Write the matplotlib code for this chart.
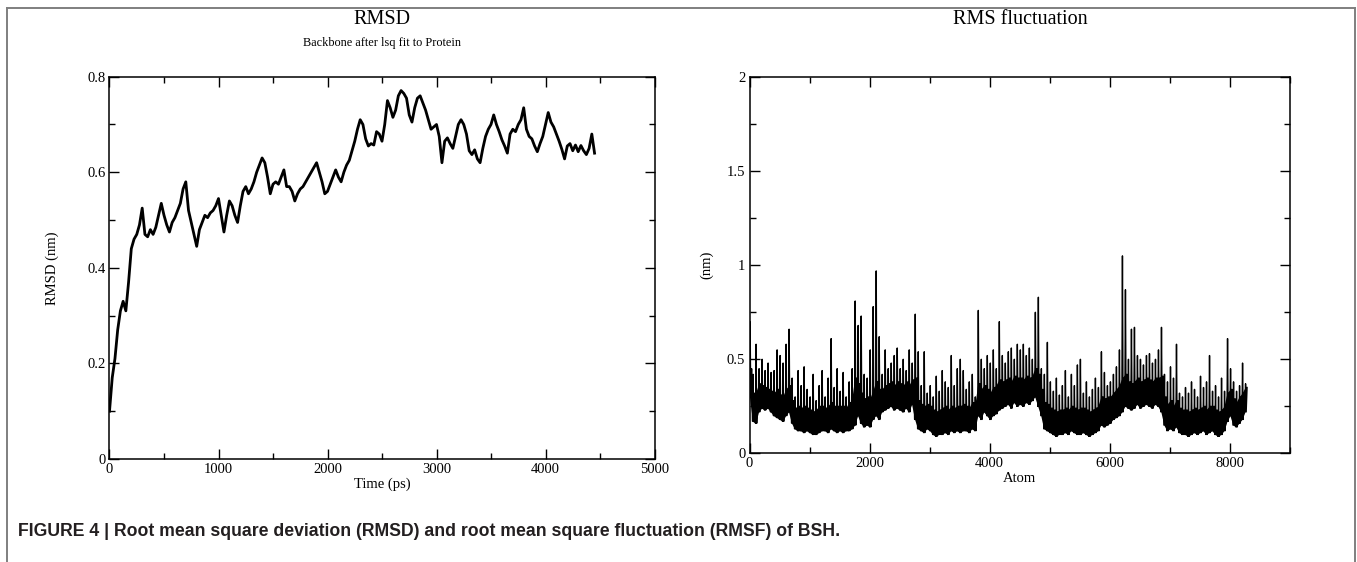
import numpy as np
import matplotlib
matplotlib.use("Agg")
import matplotlib.pyplot as plt
from matplotlib.lines import Line2D
from matplotlib.ticker import MultipleLocator, FuncFormatter

# ---------------- data ----------------
# RMSD of backbone, sampled every 25 ps from 0 to 4450 ps
rmsd_time_ps = np.arange(0, 4451, 25)
rmsd_nm = [
    0.10, 0.17, 0.21, 0.27, 0.31, 0.33, 0.31, 0.37,
    0.44, 0.46, 0.47, 0.49, 0.525, 0.47, 0.465, 0.48,
    0.47, 0.485, 0.51, 0.535, 0.51, 0.49, 0.475, 0.495,
    0.505, 0.52, 0.535, 0.565, 0.58, 0.52, 0.495, 0.47,
    0.445, 0.48, 0.495, 0.51, 0.505, 0.515, 0.52, 0.53,
    0.545, 0.51, 0.475, 0.51, 0.54, 0.53, 0.51, 0.495,
    0.53, 0.56, 0.57, 0.555, 0.565, 0.58, 0.60, 0.615,
    0.63, 0.62, 0.59, 0.555, 0.575, 0.58, 0.575, 0.59,
    0.605, 0.57, 0.57, 0.56, 0.54, 0.555, 0.565, 0.57,
    0.58, 0.59, 0.60, 0.61, 0.62, 0.60, 0.58, 0.555,
    0.56, 0.575, 0.59, 0.605, 0.59, 0.58, 0.60, 0.615,
    0.625, 0.645, 0.665, 0.69, 0.71, 0.70, 0.67, 0.655,
    0.66, 0.657, 0.685, 0.68, 0.665, 0.70, 0.75, 0.735,
    0.715, 0.73, 0.76, 0.771, 0.765, 0.755, 0.72, 0.705,
    0.735, 0.755, 0.76, 0.745, 0.73, 0.71, 0.69, 0.695,
    0.70, 0.675, 0.62, 0.665, 0.672, 0.66, 0.65, 0.675,
    0.70, 0.71, 0.70, 0.68, 0.645, 0.637, 0.647, 0.628,
    0.62, 0.65, 0.675, 0.69, 0.70, 0.72, 0.70, 0.685,
    0.668, 0.655, 0.64, 0.68, 0.69, 0.685, 0.70, 0.71,
    0.735, 0.69, 0.675, 0.67, 0.655, 0.643, 0.66, 0.675,
    0.70, 0.725, 0.705, 0.695, 0.68, 0.665, 0.648, 0.628,
    0.655, 0.66, 0.645, 0.657, 0.643, 0.656, 0.645, 0.637,
    0.65, 0.68, 0.64,
]

# RMSF per atom, summarised in 50-atom bins (0 .. 8250):
# low = bottom of dense band, core = top of dense band, high = tallest spike
rmsf_atom = np.arange(0, 8251, 50)
rmsf_low = [
    0.30, 0.17, 0.16, 0.22, 0.24, 0.23, 0.24, 0.22, 0.20, 0.19,
    0.18, 0.17, 0.20, 0.22, 0.16, 0.13, 0.12, 0.12, 0.11, 0.12,
    0.11, 0.10, 0.10, 0.11, 0.12, 0.12, 0.11, 0.13, 0.12, 0.11,
    0.12, 0.11, 0.12, 0.12, 0.13, 0.15, 0.20, 0.16, 0.14, 0.15,
    0.14, 0.18, 0.20, 0.18, 0.22, 0.23, 0.24, 0.25, 0.23, 0.24,
    0.23, 0.22, 0.24, 0.22, 0.26, 0.18, 0.13, 0.12, 0.11, 0.13,
    0.12, 0.10, 0.09, 0.10, 0.10, 0.11, 0.10, 0.12, 0.11, 0.12,
    0.11, 0.12, 0.12, 0.11, 0.13, 0.12, 0.20, 0.18, 0.22, 0.20,
    0.18, 0.20, 0.21, 0.23, 0.24, 0.25, 0.26, 0.24, 0.27, 0.25,
    0.26, 0.25, 0.27, 0.26, 0.28, 0.30, 0.25, 0.20, 0.13, 0.12,
    0.11, 0.10, 0.09, 0.10, 0.10, 0.11, 0.10, 0.12, 0.11, 0.10,
    0.10, 0.11, 0.10, 0.09, 0.10, 0.11, 0.12, 0.15, 0.14, 0.15,
    0.16, 0.18, 0.19, 0.20, 0.22, 0.25, 0.24, 0.23, 0.24, 0.26,
    0.24, 0.25, 0.26, 0.25, 0.24, 0.26, 0.25, 0.22, 0.15, 0.12,
    0.13, 0.12, 0.14, 0.11, 0.10, 0.10, 0.09, 0.10, 0.11, 0.10,
    0.11, 0.12, 0.10, 0.11, 0.12, 0.10, 0.09, 0.10, 0.12, 0.17,
    0.20, 0.15, 0.14, 0.16, 0.18, 0.22,
]
rmsf_core = [
    0.45, 0.32, 0.32, 0.37, 0.36, 0.35, 0.34, 0.33, 0.32, 0.34,
    0.31, 0.30, 0.34, 0.36, 0.28, 0.24, 0.25, 0.24, 0.25, 0.24,
    0.23, 0.22, 0.23, 0.25, 0.25, 0.24, 0.25, 0.27, 0.25, 0.25,
    0.25, 0.25, 0.24, 0.27, 0.28, 0.40, 0.37, 0.32, 0.29, 0.30,
    0.29, 0.33, 0.38, 0.34, 0.34, 0.36, 0.37, 0.38, 0.36, 0.38,
    0.37, 0.36, 0.38, 0.36, 0.39, 0.40, 0.28, 0.26, 0.25, 0.26,
    0.25, 0.23, 0.22, 0.23, 0.24, 0.25, 0.23, 0.25, 0.24, 0.25,
    0.25, 0.26, 0.25, 0.24, 0.27, 0.25, 0.37, 0.34, 0.36, 0.34,
    0.32, 0.35, 0.36, 0.39, 0.38, 0.39, 0.40, 0.38, 0.41, 0.40,
    0.40, 0.39, 0.41, 0.40, 0.41, 0.45, 0.42, 0.34, 0.27, 0.26,
    0.24, 0.23, 0.22, 0.23, 0.23, 0.24, 0.23, 0.25, 0.24, 0.23,
    0.24, 0.24, 0.23, 0.22, 0.23, 0.24, 0.25, 0.30, 0.29, 0.30,
    0.30, 0.32, 0.34, 0.36, 0.40, 0.42, 0.38, 0.37, 0.38, 0.40,
    0.38, 0.39, 0.40, 0.39, 0.38, 0.40, 0.40, 0.41, 0.30, 0.26,
    0.28, 0.25, 0.28, 0.24, 0.23, 0.23, 0.22, 0.23, 0.24, 0.23,
    0.24, 0.25, 0.23, 0.25, 0.25, 0.23, 0.22, 0.23, 0.25, 0.32,
    0.34, 0.29, 0.27, 0.30, 0.32, 0.35,
]
rmsf_high = [
    0.70, 0.42, 0.58, 0.45, 0.50, 0.44, 0.48, 0.43, 0.44, 0.55,
    0.52, 0.48, 0.58, 0.66, 0.40, 0.30, 0.44, 0.36, 0.46, 0.34,
    0.30, 0.42, 0.28, 0.36, 0.44, 0.30, 0.40, 0.61, 0.35, 0.45,
    0.33, 0.43, 0.30, 0.38, 0.45, 0.81, 0.68, 0.73, 0.42, 0.40,
    0.55, 0.78, 0.97, 0.62, 0.42, 0.55, 0.45, 0.48, 0.52, 0.56,
    0.45, 0.50, 0.44, 0.55, 0.48, 0.74, 0.54, 0.36, 0.54, 0.32,
    0.36, 0.30, 0.41, 0.33, 0.44, 0.38, 0.35, 0.52, 0.36, 0.45,
    0.50, 0.44, 0.34, 0.38, 0.42, 0.30, 0.76, 0.50, 0.45, 0.52,
    0.48, 0.55, 0.45, 0.70, 0.52, 0.48, 0.54, 0.56, 0.50, 0.58,
    0.55, 0.58, 0.52, 0.56, 0.50, 0.75, 0.83, 0.45, 0.42, 0.59,
    0.38, 0.33, 0.40, 0.31, 0.36, 0.44, 0.30, 0.42, 0.36, 0.47,
    0.50, 0.32, 0.38, 0.30, 0.34, 0.40, 0.35, 0.54, 0.43, 0.36,
    0.38, 0.42, 0.46, 0.55, 1.05, 0.87, 0.50, 0.66, 0.67, 0.52,
    0.50, 0.47, 0.52, 0.53, 0.48, 0.50, 0.55, 0.67, 0.42, 0.38,
    0.46, 0.40, 0.58, 0.32, 0.30, 0.35, 0.32, 0.38, 0.34, 0.30,
    0.41, 0.35, 0.38, 0.52, 0.33, 0.36, 0.30, 0.40, 0.33, 0.61,
    0.45, 0.38, 0.33, 0.36, 0.48, 0.37,
]

# ---------------- style ----------------
SERIF = ["Liberation Serif", "DejaVu Serif"]
plt.rcParams["font.family"] = SERIF
plt.rcParams["axes.linewidth"] = 1.1

W, H = 1357, 562
fig = plt.figure(figsize=(W / 100, H / 100), dpi=100)

def px_axes(x0, y0, x1, y1):
    return fig.add_axes([x0 / W, 1 - y1 / H, (x1 - x0) / W, (y1 - y0) / H])

def style_axes(ax):
    ax.tick_params(which="both", direction="in", top=True, right=True,
                   labelsize=10.5, width=1.0, pad=3)
    ax.tick_params(which="major", length=7.5)
    ax.tick_params(which="minor", length=4.5)
    fmt = FuncFormatter(lambda v, p: "%g" % v)
    ax.xaxis.set_major_formatter(fmt)
    ax.yaxis.set_major_formatter(fmt)

# Left: RMSD
ax1 = px_axes(109.5, 76.7, 654.5, 459)
ax1.plot(rmsd_time_ps, rmsd_nm, color="black", lw=2.0)
ax1.set_xlim(0, 5000)
ax1.set_ylim(0, 0.8)
ax1.xaxis.set_major_locator(MultipleLocator(1000))
ax1.xaxis.set_minor_locator(MultipleLocator(500))
ax1.yaxis.set_major_locator(MultipleLocator(0.2))
ax1.yaxis.set_minor_locator(MultipleLocator(0.1))
style_axes(ax1)
ax1.set_xlabel("Time (ps)", fontsize=10.5, labelpad=1)
ax1.set_ylabel("RMSD (nm)", fontsize=10.5, labelpad=20)

# Right: RMSF
ax2 = px_axes(749.5, 77.3, 1290, 453.3)
low = np.asarray(rmsf_low)
core = np.asarray(rmsf_core)
high = np.asarray(rmsf_high)
n = len(rmsf_atom)
xs = np.empty(4 * n)
ys = np.empty(4 * n)
xs[0::4] = rmsf_atom
xs[1::4] = rmsf_atom + 10
xs[2::4] = rmsf_atom + 20
xs[3::4] = rmsf_atom + 35
ys[0::4] = low
ys[1::4] = high
ys[2::4] = low
ys[3::4] = core
ax2.fill_between(rmsf_atom, low, core, color="black", lw=0)
ax2.plot(xs, ys, color="black", lw=1.0)
ax2.set_xlim(0, 9000)
ax2.set_ylim(0, 2)
ax2.xaxis.set_major_locator(MultipleLocator(2000))
ax2.xaxis.set_minor_locator(MultipleLocator(1000))
ax2.yaxis.set_major_locator(MultipleLocator(0.5))
ax2.yaxis.set_minor_locator(MultipleLocator(0.25))
style_axes(ax2)
ax2.set_xlabel("Atom", fontsize=10.5, labelpad=1)
ax2.set_ylabel("(nm)", fontsize=10.5, labelpad=10)

# Titles
fig.text(382 / W, 1 - 20 / H, "RMSD", ha="center", va="center", fontsize=14.5)
fig.text(382 / W, 1 - 43 / H, "Backbone after lsq fit to Protein",
         ha="center", va="center", fontsize=8.8)
fig.text(1020 / W, 1 - 20 / H, "RMS fluctuation", ha="center", va="center",
         fontsize=14.5)

# Caption
fig.text(18 / W, 1 - 531 / H,
         "FIGURE 4 | Root mean square deviation (RMSD) and root mean square "
         "fluctuation (RMSF) of BSH.",
         ha="left", va="center", fontsize=12.7, fontweight="bold",
         color="#231f20", family=["Liberation Sans", "DejaVu Sans"])

# Outer frame (left, top, right)
fc = "#7f7f7f"
fig.add_artist(Line2D([7 / W, 7 / W], [0, 1 - 8 / H], transform=fig.transFigure,
                      color=fc, lw=1.4))
fig.add_artist(Line2D([7 / W, 1355 / W], [1 - 8 / H, 1 - 8 / H],
                      transform=fig.transFigure, color=fc, lw=1.4))
fig.add_artist(Line2D([1355 / W, 1355 / W], [0, 1 - 8 / H],
                      transform=fig.transFigure, color=fc, lw=1.4))

fig.savefig("out.png", dpi=100, facecolor="white")
